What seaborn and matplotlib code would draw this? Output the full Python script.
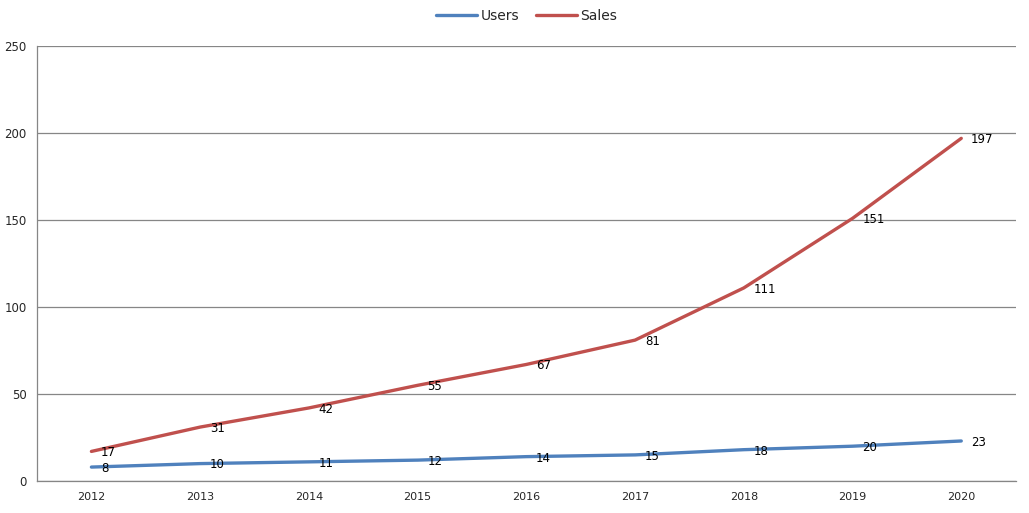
import matplotlib
matplotlib.use("Agg")
import matplotlib.pyplot as plt
import seaborn as sns
import pandas as pd
import numpy as np

years = ["2012", "2013", "2014", "2015", "2016", "2017", "2018", "2019", "2020"]
users = [8, 10, 11, 12, 14, 15, 18, 20, 23]
sales = [17, 31, 42, 55, 67, 81, 111, 151, 197]

sns.set_style("white")
plt.rcParams['font.family'] = ['DejaVu Sans']

df = pd.DataFrame({
    "pos": list(range(len(years))) * 2,
    "value": users + sales,
    "series": ["Users"] * len(years) + ["Sales"] * len(years),
})

fig = plt.figure(figsize=(10.29, 5.13), dpi=100)
ax = fig.add_axes([0.036, 0.0624, 0.951, 0.8476])

sns.lineplot(data=df, x="pos", y="value", hue="series",
             palette={"Users": "#4F81BD", "Sales": "#C0504D"},
             linewidth=2.4, ax=ax, legend=True)

# value labels next to each point
for vals in (users, sales):
    for i, v in enumerate(vals):
        ax.annotate(str(v), (i, v), xytext=(7, -1), textcoords="offset points",
                    ha="left", va="center", fontsize=8.5, color="black")

ax.set_xlim(-0.5, len(years) - 0.5)
ax.set_ylim(0, 250)
ax.set_yticks(np.arange(0, 251, 50))
ax.set_xticks(range(len(years)))
ax.set_xticklabels(years)
ax.set_xticks(np.arange(-0.5, len(years), 1), minor=True)
ax.tick_params(axis="x", which="major", length=0, labelsize=8, pad=8)
ax.tick_params(axis="x", which="minor", length=5, color="#868686", direction="out")
ax.tick_params(axis="y", length=4, color="#868686", labelsize=8.5, direction="out")
ax.yaxis.grid(True, color="#868686", linewidth=0.9)
ax.set_axisbelow(True)
ax.set_xlabel("")
ax.set_ylabel("")
for s in ["top", "right"]:
    ax.spines[s].set_visible(False)
for s in ["left", "bottom"]:
    ax.spines[s].set_color("#868686")
    ax.spines[s].set_linewidth(0.9)

ax.legend(loc="upper center", bbox_to_anchor=(0.5, 1.115), ncol=2, frameon=False,
          fontsize=10, handlelength=3, columnspacing=1.2, handletextpad=0.2)

fig.savefig("out.png", dpi=100)
